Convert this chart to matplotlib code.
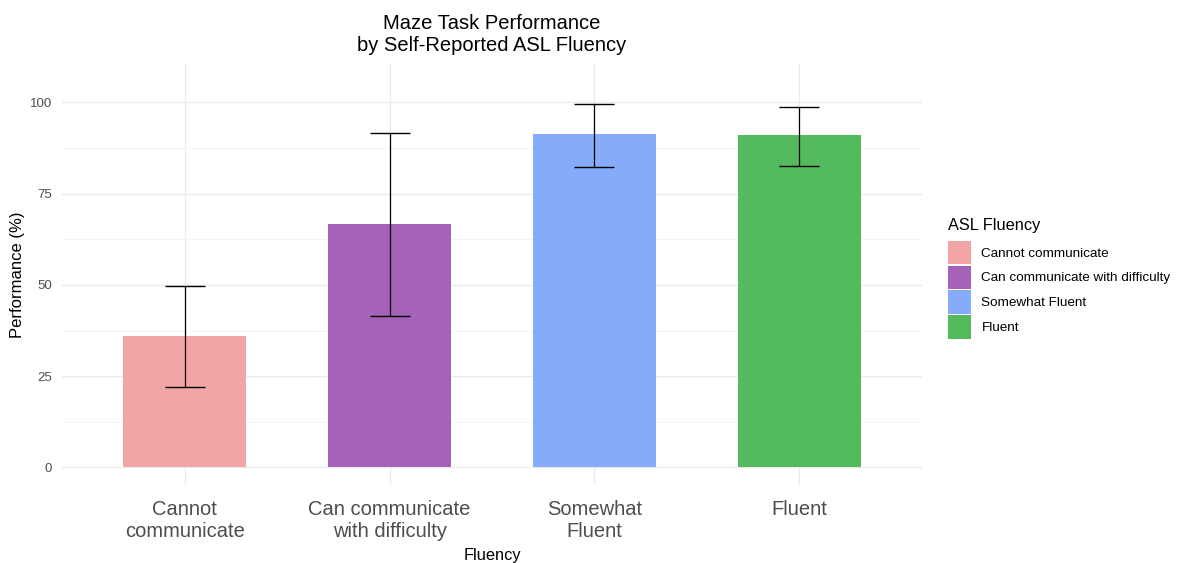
import numpy as np
import matplotlib
matplotlib.use('Agg')
import matplotlib.pyplot as plt
from matplotlib.patches import Patch

plt.rcParams['font.family'] = ['Liberation Sans', 'DejaVu Sans']

# data
categories = ['Cannot communicate', 'Can communicate with difficulty',
              'Somewhat Fluent', 'Fluent']
tick_labels = ['Cannot\ncommunicate', 'Can communicate\nwith difficulty',
               'Somewhat\nFluent', 'Fluent']
performance = [36.1, 66.8, 91.3, 91.1]
err_low = [22.1, 41.5, 82.4, 82.7]
err_high = [49.7, 91.5, 99.6, 98.8]
colors = ['#F2A5A5', '#A463B8', '#85ABF9', '#53BA5E']

fig = plt.figure(figsize=(11.79, 5.63), dpi=100)
ax = fig.add_axes([62 / 1179, 1 - 485 / 563, 860 / 1179, 421 / 563])

x = np.arange(1, len(categories) + 1)
ax.bar(x, performance, width=0.6, color=colors, zorder=2)
perf = np.array(performance)
yerr = [perf - np.array(err_low), np.array(err_high) - perf]
ax.errorbar(x, perf, yerr=yerr, fmt='none', ecolor='black', elinewidth=0.9,
            capsize=14.4, capthick=1.0, zorder=3)

ax.set_xlim(0.4, 4.6)
ax.set_ylim(-4.8, 110.5)
ax.set_yticks([0, 25, 50, 75, 100])
ax.set_yticks([12.5, 37.5, 62.5, 87.5], minor=True)
ax.set_xticks(x)
ax.set_xticklabels(tick_labels, fontsize=14.5, color='#4D4D4D')
ax.tick_params(axis='x', length=0, pad=11)
ax.tick_params(axis='y', which='both', length=0, pad=7, labelsize=9.5,
               labelcolor='#4D4D4D')

ax.grid(True, which='major', color='#EBEBEB', linewidth=1.0, zorder=0)
ax.grid(True, which='minor', axis='y', color='#F3F3F3', linewidth=0.7, zorder=0)
ax.set_axisbelow(True)
for s in ax.spines.values():
    s.set_visible(False)

ax.set_ylabel('Performance (%)', fontsize=12)
ax.yaxis.set_label_coords(-0.043, 0.5)
ax.set_xlabel('Fluency', fontsize=11.8)
ax.xaxis.set_label_coords(0.5, -0.15)
ax.set_title('Maze Task Performance\nby Self-Reported ASL Fluency',
             fontsize=14.5, pad=9, linespacing=1.25)

handles = [Patch(facecolor=c, edgecolor='none') for c in colors]
leg = fig.legend(handles, categories, loc='upper left',
                 bbox_to_anchor=(943 / 1179, 1 - 213 / 563), frameon=False,
                 title='ASL Fluency', title_fontsize=11.8, fontsize=9.7,
                 handlelength=1.7, handleheight=2.3, labelspacing=0.1,
                 handletextpad=0.75, alignment='left', borderaxespad=0)
leg._legend_box.sep = 5.3  # a bit more room under the legend title

fig.savefig('out.png', dpi=100)
